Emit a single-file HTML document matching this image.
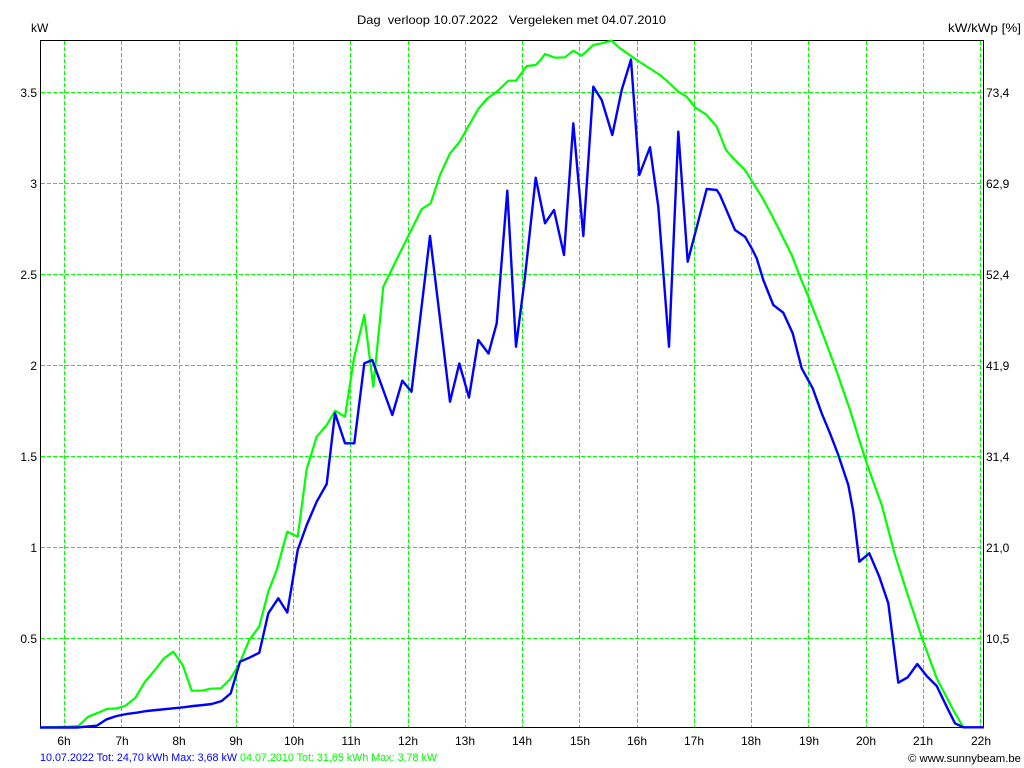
<!DOCTYPE html>
<html>
<head>
<meta charset="utf-8">
<style>
html,body{margin:0;padding:0;background:#fff;}
svg{display:block;}
text{font-family:"Liberation Sans",Arial,sans-serif;}
</style>
</head>
<body>
<svg width="1024" height="768" viewBox="0 0 1024 768" xmlns="http://www.w3.org/2000/svg">
<rect x="0" y="0" width="1024" height="768" fill="#fff"/>
<g stroke="#00ff00" stroke-width="1" stroke-dasharray="4,2" shape-rendering="crispEdges" fill="none">
<line x1="41" y1="92.5" x2="983" y2="92.5"/>
<line x1="41" y1="183.5" x2="983" y2="183.5"/>
<line x1="41" y1="274.5" x2="983" y2="274.5"/>
<line x1="41" y1="365.5" x2="983" y2="365.5"/>
<line x1="41" y1="456.5" x2="983" y2="456.5"/>
<line x1="41" y1="547.5" x2="983" y2="547.5"/>
<line x1="41" y1="638.5" x2="983" y2="638.5"/>
<line x1="64.5" y1="41" x2="64.5" y2="727"/>
<line x1="121.5" y1="41" x2="121.5" y2="727"/>
<line x1="179.5" y1="41" x2="179.5" y2="727"/>
<line x1="236.5" y1="41" x2="236.5" y2="727"/>
<line x1="293.5" y1="41" x2="293.5" y2="727"/>
<line x1="350.5" y1="41" x2="350.5" y2="727"/>
<line x1="408.5" y1="41" x2="408.5" y2="727"/>
<line x1="465.5" y1="41" x2="465.5" y2="727"/>
<line x1="522.5" y1="41" x2="522.5" y2="727"/>
<line x1="579.5" y1="41" x2="579.5" y2="727"/>
<line x1="637.5" y1="41" x2="637.5" y2="727"/>
<line x1="694.5" y1="41" x2="694.5" y2="727"/>
<line x1="751.5" y1="41" x2="751.5" y2="727"/>
<line x1="808.5" y1="41" x2="808.5" y2="727"/>
<line x1="866.5" y1="41" x2="866.5" y2="727"/>
<line x1="923.5" y1="41" x2="923.5" y2="727"/>
<line x1="980.5" y1="41" x2="980.5" y2="727"/>
</g>
<g fill="none" stroke="#000" stroke-width="1" shape-rendering="crispEdges">
<line x1="40.5" y1="40.5" x2="983.5" y2="40.5"/>
<line x1="40.5" y1="40" x2="40.5" y2="728"/>
<line x1="983.5" y1="40" x2="983.5" y2="728"/>
<line x1="40" y1="727.5" x2="984" y2="727.5"/>
</g>
<polyline fill="none" stroke="#00ff00" stroke-width="2.2" stroke-linejoin="round" points="
40,727.5 68.3,726.7 78.3,726 88.3,716.7 98.3,712.7 106.7,709 116.7,708.3 125,706 135,698.3 145,681.7 155,670 164,658.3 173.3,651.7 182.7,665 191.7,690.7 201.7,690.7 210.7,688.7 221,688.3 230,679.3 239.3,664 249.3,640 259.3,626.3 268.3,591.7 276.7,570 287.3,531.7 297.7,536.7 306.7,469 316.7,436.7 326.7,425 335,410.7 345,416.7 354,358.3 364.3,315 373.3,386.7 383.3,286.7 400,252.7 421.7,209 430.7,203.3 440,175 450,153.3 459.3,142.3 478.3,109 486.7,99 497.7,91 508.3,80.7 516,80.7 526.7,66 535.7,65 540,60.7 545,54 555,57.7 565,57.3 573.3,50.7 581.7,55.7 593.3,45 601.7,43.3 611.7,40.7 620,48.3 636.7,60 660,75 666.7,80.7 678.3,91.7 686.7,96.7 695,107.3 706.7,115 716.7,126.7 720,135 726,150 733.3,158.3 745,170 753.3,183.3 761.7,196.7 771.7,215 781.7,235 791.7,255 800,276.7 808.3,296.7 820,326.7 835,366.7 850,410 859.3,440 866.7,463.3 881.7,505 895,555 908.3,596.7 922.7,640 936.7,678.3 953.3,710 963.3,727.3"/>
<polyline fill="none" stroke="#0000ff" stroke-width="2.4" stroke-linejoin="round" points="
40,727.5 76.7,727.5 96.7,725.7 106.7,719.3 116.7,716 126.7,714 136.7,712.7 146.7,711 156.7,710 173.3,708.3 183.3,707.3 193.3,706 203.3,705 211.7,704 221.7,701 230.7,693.3 240,661.7 249.3,657.7 259.3,652.7 268.3,613.3 278.3,598.3 287.3,612.5 297.7,550 306.7,525 316.7,501.7 326.7,484 335,413.3 345,443.3 354.3,443.3 364.3,363.3 372.3,360 392.3,415 402.3,380.7 411.5,391.7 430,236 450,401.7 459.3,363.5 469,397.5 478.3,340 488.5,353.5 496.7,323.3 507.3,190.7 516,346.7 525,276.7 535.7,177.7 545,223.3 554,210 564,255 573.3,123.3 583.3,236 593.3,86.7 601.7,100 612.3,135 621.7,90 631,59.5 639.3,175 650,147.3 658.3,206.7 669,346.7 678.3,131.7 687.7,261.7 706.7,189 716.7,190 720,195 725,206.7 735,230 745,236.7 751.7,248.3 756.7,258.3 763.3,280 773.3,305 783.3,312.7 792.7,333.3 801.7,368.3 812.7,388.3 821.7,413.3 830,433.3 838.3,455 848.3,485 853.3,511.7 859.3,561.7 869.3,553.3 879.3,576.7 888.3,603.3 898.3,682.7 907.7,677.3 917.3,664 926.7,676 936.7,686 946.7,706.7 955,723.3 963.3,727.3 984,727.3"/>
<g font-size="12" fill="#000">
<text x="357" y="24" textLength="309" lengthAdjust="spacingAndGlyphs" xml:space="preserve">Dag  verloop 10.07.2022   Vergeleken met 04.07.2010</text>
<text x="31" y="32">kW</text>
<text x="948" y="32" textLength="73" lengthAdjust="spacingAndGlyphs">kW/kWp [%]</text>
</g>
<g font-size="12" fill="#000" text-anchor="end">
<text x="37" y="97">3.5</text>
<text x="37" y="188">3</text>
<text x="37" y="279">2.5</text>
<text x="37" y="370">2</text>
<text x="37" y="461">1.5</text>
<text x="37" y="552">1</text>
<text x="37" y="643">0.5</text>
</g>
<g font-size="12" fill="#000">
<text x="986" y="97">73,4</text>
<text x="986" y="188">62,9</text>
<text x="986" y="279">52,4</text>
<text x="986" y="370">41,9</text>
<text x="986" y="461">31,4</text>
<text x="986" y="552">21,0</text>
<text x="986" y="643">10,5</text>
</g>
<g font-size="12" fill="#000" text-anchor="middle">
<text x="64" y="745">6h</text>
<text x="122" y="745">7h</text>
<text x="179" y="745">8h</text>
<text x="236" y="745">9h</text>
<text x="294" y="745">10h</text>
<text x="351" y="745">11h</text>
<text x="408" y="745">12h</text>
<text x="465" y="745">13h</text>
<text x="522" y="745">14h</text>
<text x="580" y="745">15h</text>
<text x="637" y="745">16h</text>
<text x="694" y="745">17h</text>
<text x="751" y="745">18h</text>
<text x="809" y="745">19h</text>
<text x="866" y="745">20h</text>
<text x="923" y="745">21h</text>
<text x="981" y="745">22h</text>
</g>
<g font-size="11">
<text x="40" y="761" fill="#0000ff" textLength="197" lengthAdjust="spacingAndGlyphs">10.07.2022 Tot: 24,70 kWh Max: 3,68 kW</text>
<text x="240" y="761" fill="#00ff00" textLength="197" lengthAdjust="spacingAndGlyphs">04.07.2010 Tot: 31,65 kWh Max: 3,78 kW</text>
<text x="908" y="762" fill="#000" textLength="113" lengthAdjust="spacingAndGlyphs">© www.sunnybeam.be</text>
</g>
</svg>
</body>
</html>
